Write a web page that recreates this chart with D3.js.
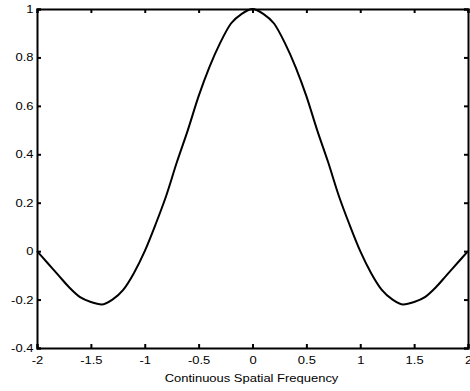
<!DOCTYPE html>
<html>
<head>
<meta charset="utf-8">
<script src="https://cdn.jsdelivr.net/npm/d3@7"></script>
<style>
  body { margin: 0; background: #fff; }
  svg text { font-family: "Liberation Sans", Arial, sans-serif; font-size: 11px; fill: #000; }
</style>
</head>
<body>
<div id="chart"></div>
<script>
// values
const freq = [-2, -1.9, -1.8, -1.7, -1.6, -1.5, -1.4, -1.3, -1.2, -1.1, -1, -0.9, -0.8, -0.7, -0.6, -0.5, -0.4, -0.3, -0.2, -0.1,
  0, 0.1, 0.2, 0.3, 0.4, 0.5, 0.6, 0.7, 0.8, 0.9, 1, 1.1, 1.2, 1.3, 1.4, 1.5, 1.6, 1.7, 1.8, 1.9, 2];
const response = [0, -0.05, -0.10, -0.15, -0.19, -0.21, -0.22, -0.20, -0.16, -0.09, 0, 0.11, 0.23, 0.37, 0.50, 0.64, 0.76, 0.86, 0.94, 0.98,
  1, 0.98, 0.94, 0.86, 0.76, 0.64, 0.50, 0.37, 0.23, 0.11, 0, -0.09, -0.16, -0.20, -0.22, -0.21, -0.19, -0.15, -0.10, -0.05, 0];
const xTicks = [-2, -1.5, -1, -0.5, 0, 0.5, 1, 1.5, 2];
const yTicks = [-0.4, -0.2, 0, 0.2, 0.4, 0.6, 0.8, 1];
const xLabel = 'Continuous Spatial Frequency';

const margin = { top: 9, right: 2, bottom: 43, left: 37 };
const totalW = 470, totalH = 391;
const width = totalW - margin.left - margin.right;
const height = totalH - margin.top - margin.bottom;
const textStretch = 'scale(1.18, 1)'; // reference text is a bit wider than the font

const svg = d3.select('#chart').append('svg')
  .attr('width', totalW)
  .attr('height', totalH);

const g = svg.append('g')
  .attr('transform', `translate(${margin.left}, ${margin.top})`);

const x = d3.scaleLinear().domain([-2, 2]).range([0, width]);
const y = d3.scaleLinear().domain([-0.4, 1]).range([height, 0]);
const tickLen = 4;
const fmt = d => String(d); // plain hyphen minus like the reference

// bottom axis with labels, ticks pointing inward
const xAxis = g.append('g')
  .attr('transform', `translate(0, ${height})`)
  .call(d3.axisBottom(x).tickValues(xTicks).tickSize(-tickLen).tickPadding(8).tickFormat(fmt));
// top axis, ticks only
const xAxisTop = g.append('g')
  .call(d3.axisTop(x).tickValues(xTicks).tickSize(-tickLen).tickFormat(''));
// left axis with labels
const yAxis = g.append('g')
  .call(d3.axisLeft(y).tickValues(yTicks).tickSize(-tickLen).tickPadding(3).tickFormat(fmt));
// right axis, ticks only
const yAxisRight = g.append('g')
  .attr('transform', `translate(${width}, 0)`)
  .call(d3.axisRight(y).tickValues(yTicks).tickSize(-tickLen).tickFormat(''));

[xAxis, xAxisTop, yAxis, yAxisRight].forEach(a => {
  a.selectAll('.domain').attr('stroke', '#000').attr('stroke-width', 2);
  a.selectAll('.tick line').attr('stroke', '#000').attr('stroke-width', 2);
  a.selectAll('text')
    .style('font-family', '"Liberation Sans", Arial, sans-serif')
    .style('font-size', '11px')
    .attr('transform', textStretch);
});
xAxis.selectAll('.tick text').attr('dy', '0.71em');

// x label
svg.append('g')
  .attr('transform', `translate(${margin.left + width / 2 - 1}, 382)`)
  .append('text')
  .attr('text-anchor', 'middle')
  .attr('transform', textStretch)
  .text(xLabel);

// the curve
const line = d3.line()
  .x(d => x(d[0]))
  .y(d => y(d[1]))
  .curve(d3.curveMonotoneX);

g.append('path')
  .datum(freq.map((f, i) => [f, response[i]]))
  .attr('fill', 'none')
  .attr('stroke', '#000')
  .attr('stroke-width', 2)
  .attr('d', line);
</script>
</body>
</html>
